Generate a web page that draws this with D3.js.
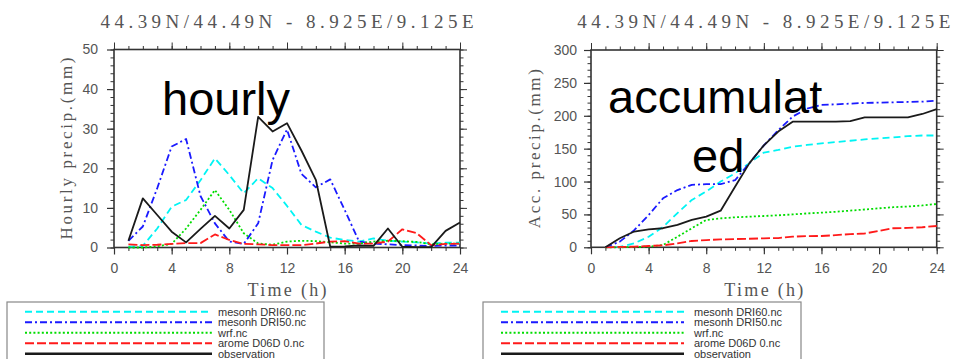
<!DOCTYPE html>
<html><head><meta charset="utf-8">
<script src="https://cdn.jsdelivr.net/npm/d3@7"></script>
<style>body{margin:0;background:#fff;}svg{display:block;}</style>
</head><body>
<svg id="chart" width="954" height="359"></svg>
<script>
// ---------- data ----------
const hours = [1,2,3,4,5,6,7,8,9,10,11,12,13,14,15,16,17,18,19,20,21,22,23,24];
const xTicks = [0,4,8,12,16,20,24];
const hourlyTicks = [0,10,20,30,40,50];
const accTicks = [0,50,100,150,200,250,300];
const seriesNames = ["mesonh DRI60.nc","mesonh DRI50.nc","wrf.nc","arome D06D 0.nc","observation"];
const titleText = "44.39N/44.49N - 8.925E/9.125E";

const hourlyDRI60 = [0.2,0.4,4.8,10.3,12,17,22.5,18.3,13.7,17.5,15,10.5,5.7,4.0,2.5,1.9,1.5,2.3,1.7,1.5,1.3,1.0,1.2,1.2];
const hourlyDRI50 = [1.7,5.3,15,25.5,27.4,13,6.1,1.5,0.9,6.1,22.1,29.8,18.6,15.2,17.2,9.5,1.5,1.0,0.8,0.6,0.5,0.4,0.5,0.5];
const hourlyWRF   = [0,0,0.3,0.9,4.8,9.5,14.5,9.5,3.6,1.0,0.7,1.5,1.7,1.6,1.3,1.0,1.0,1.5,1.7,1.6,1.4,0.8,1.0,1.0];
const hourlyArome = [0.8,0.6,0.7,0.9,1.1,1.1,3.3,1.9,0.9,0.8,0.6,0.6,0.6,1.0,1.5,1.6,1.0,1.0,1.5,4.6,3.6,0.6,0.9,1.0];
const hourlyObs   = [1.7,12.4,8.2,4.0,1.3,4.7,8.0,4.8,9.5,33,29.3,31.4,24.5,17.1,0.2,0.3,0.5,0.4,4.8,0.2,0.1,0.1,4.2,6.3];

const accDRI60 = [0,0.5,6,16,31,52,72,85,100,112.5,128,144,148,153,155.6,158,160,162,164,165.7,167,169,170,170];
const accDRI50 = [0,8.6,26,49,74.5,87,95,96,96,102,128,155,178,198.7,211,216.4,217.4,218.5,219.5,220,220.5,221,221.5,223];
const accWRF   = [0,0,0.5,1,3.5,16,29,41.5,44,45.6,46.6,47.6,48.7,50,51.5,52.7,54,55.8,57.5,59.3,61,62,63.6,65.9];
const accArome = [0,0.5,1,2,3,6,9.6,11,12,12.6,13,13.7,14,16.2,17,17.2,18.5,20,21,25,29,29.5,30.5,32.4];
const accObs   = [0,13.7,24,27.4,29,34,41.6,46.6,55.7,92,128,155,176,191,191,191,191,192,197.7,197.7,197.7,197.7,202.7,210];

// ---------- styles ----------
const styles = [
  {color:"#00f4f4", dash:"7,4", width:1.8},
  {color:"#1a1aff", dash:"7,3,2,3", width:1.8},
  {color:"#00dd00", dash:"2,2.2", width:1.8},
  {color:"#ff1a1a", dash:"9,3", width:1.8},
  {color:"#1a1a1a", dash:null, width:1.8}
];

const panels = [
  {left:114, right:460, top:49.5, bottom:247.5, ymax:50, yTicks:hourlyTicks, yMinorStep:2,
   series:[hourlyDRI60,hourlyDRI50,hourlyWRF,hourlyArome,hourlyObs],
   ylabel:"Hourly precip.(mm)", ylabelX:72, ylabelLen:182, labelPad:9,
   bigText:[{t:"hourly", x:162, y:115}],
   legend:{x:7, y:302, w:317, lineX1:25, lineX2:212, textX:218}},
  {left:591, right:936.7, top:50, bottom:247.3, ymax:300, yTicks:accTicks, yMinorStep:10,
   series:[accDRI60,accDRI50,accWRF,accArome,accObs],
   ylabel:"Acc. precip.(mm)", ylabelX:540, ylabelLen:159, labelPad:7,
   bigText:[{t:"accumulat", x:608, y:113},{t:"ed", x:692, y:172}],
   legend:{x:483, y:302, w:318, lineX1:501, lineX2:684, textX:694}}
];

const svg = d3.select("#chart");
const axisColor = "#333";
const labelColor = "#555";

panels.forEach(p => {
  const x = d3.scaleLinear().domain([0,24]).range([p.left,p.right]);
  const y = d3.scaleLinear().domain([0,p.ymax]).range([p.bottom,p.top]);
  const g = svg.append("g");

  const xMinor = d3.range(0,25,1);
  const yMinor = d3.range(0,p.ymax+0.001,p.yMinorStep);
  const mk = (axis, transform) => {
    const a = g.append("g").attr("transform",transform).call(axis);
    a.select(".domain").remove();
    a.selectAll("line").attr("stroke",axisColor).attr("stroke-width",1);
    return a;
  };
  mk(d3.axisBottom(x).tickValues(xMinor).tickSize(3.5).tickFormat(""), `translate(0,${p.bottom})`);
  mk(d3.axisTop(x).tickValues(xMinor).tickSize(3.5).tickFormat(""), `translate(0,${p.top})`);
  mk(d3.axisLeft(y).tickValues(yMinor).tickSize(3.5).tickFormat(""), `translate(${p.left},0)`);
  mk(d3.axisRight(y).tickValues(yMinor).tickSize(3.5).tickFormat(""), `translate(${p.right},0)`);

  const xb = mk(d3.axisBottom(x).tickValues(xTicks).tickSize(7).tickPadding(9).tickFormat(d3.format("d")), `translate(0,${p.bottom})`);
  mk(d3.axisTop(x).tickValues(xTicks).tickSize(7).tickFormat(""), `translate(0,${p.top})`);
  const yl = mk(d3.axisLeft(y).tickValues(p.yTicks).tickSize(7).tickPadding(p.labelPad).tickFormat(d3.format("d")), `translate(${p.left},0)`);
  mk(d3.axisRight(y).tickValues(p.yTicks).tickSize(7).tickFormat(""), `translate(${p.right},0)`);
  [xb,yl].forEach(a => a.selectAll("text")
      .attr("font-family","Liberation Sans, Arial, sans-serif")
      .attr("font-size",14).attr("fill",labelColor));
  xb.selectAll("line").attr("stroke-width",1.2);
  yl.selectAll("line").attr("stroke-width",1.2);

  g.append("rect").attr("x",p.left).attr("y",p.top)
    .attr("width",p.right-p.left).attr("height",p.bottom-p.top)
    .attr("fill","none").attr("stroke",axisColor).attr("stroke-width",1.6);

  const line = d3.line().x((d,i)=>x(hours[i])).y(d=>y(d));
  p.series.forEach((s,i) => {
    const st = styles[i];
    g.append("path").datum(s).attr("d",line)
      .attr("fill","none").attr("stroke",st.color).attr("stroke-width",st.width)
      .attr("stroke-dasharray",st.dash).attr("stroke-linejoin","round");
  });

  const cx = (p.left+p.right)/2;
  g.append("text").attr("x",cx).attr("y",27.5).attr("text-anchor","middle")
    .attr("font-family","Liberation Serif, Times New Roman, serif").attr("font-size",19)
    .attr("fill",labelColor).attr("textLength",373).attr("lengthAdjust","spacing")
    .text(titleText);

  g.append("text").attr("x",cx).attr("y",296).attr("text-anchor","middle")
    .attr("font-family","Liberation Serif, Times New Roman, serif").attr("font-size",18)
    .attr("fill",labelColor).attr("textLength",79).attr("lengthAdjust","spacing")
    .text("Time (h)");

  const ymid = (p.top+p.bottom)/2;
  g.append("text").attr("transform",`translate(${p.ylabelX},${ymid}) rotate(-90)`)
    .attr("text-anchor","middle")
    .attr("font-family","Liberation Serif, Times New Roman, serif").attr("font-size",17)
    .attr("fill",labelColor).attr("textLength",p.ylabelLen).attr("lengthAdjust","spacing")
    .text(p.ylabel);

  p.bigText.forEach(b => {
    g.append("text").attr("x",b.x).attr("y",b.y)
      .attr("font-family","Liberation Sans, Arial, sans-serif").attr("font-size",47)
      .attr("fill","#000").text(b.t);
  });

  const L = p.legend;
  g.append("rect").attr("x",L.x).attr("y",L.y).attr("width",L.w).attr("height",70)
    .attr("fill","#fff").attr("stroke","#888").attr("stroke-width",1.2);
  const rowY = d3.scalePoint().domain(seriesNames).range([311.7,353.7]);
  seriesNames.forEach((n,i) => {
    const st = styles[i];
    g.append("line").attr("x1",L.lineX1).attr("x2",L.lineX2)
      .attr("y1",rowY(n)).attr("y2",rowY(n))
      .attr("stroke",st.color).attr("stroke-width", i===4 ? 2.4 : 2)
      .attr("stroke-dasharray",st.dash);
    g.append("text").attr("x",L.textX).attr("y",rowY(n)+3.8)
      .attr("font-family","Liberation Sans, Arial, sans-serif").attr("font-size",11)
      .attr("fill","#333").text(n);
  });
});
</script>
</body></html>
